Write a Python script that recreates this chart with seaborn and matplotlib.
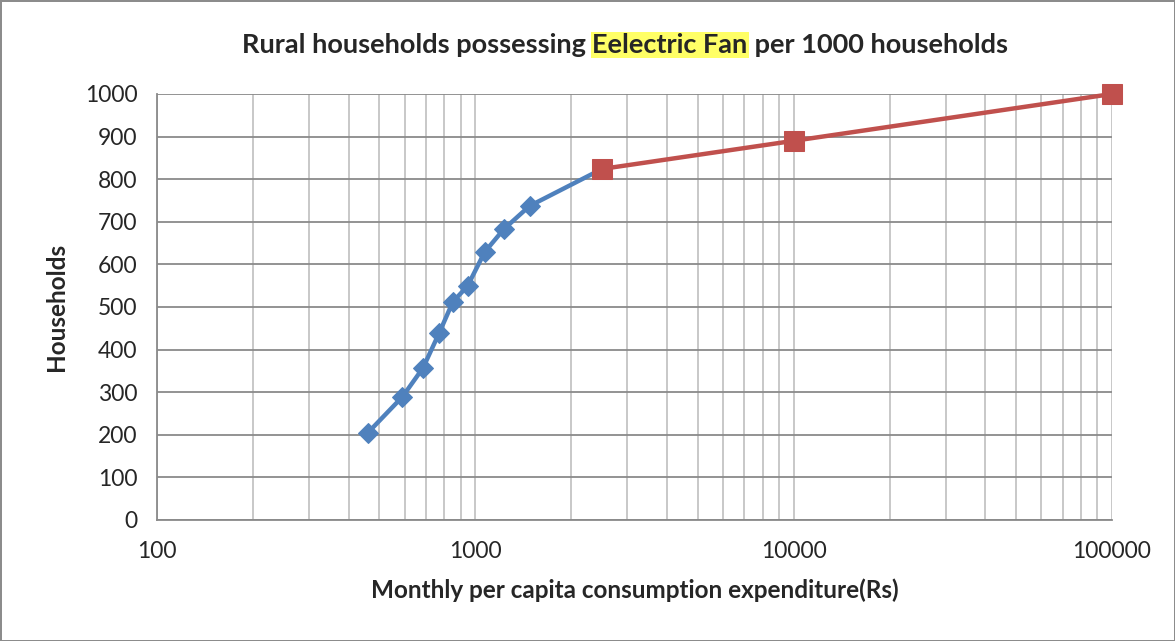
import matplotlib.pyplot as plt
import pandas as pd
import seaborn as sns
from matplotlib.ticker import FixedLocator, LogLocator, NullFormatter

# values
blue_mpce = [460, 590, 685, 770, 850, 945, 1070, 1230, 1480, 2500]
blue_households = [205, 289, 357, 439, 512, 549, 629, 683, 737, 824]
red_mpce = [2500, 10000, 100000]
red_households = [824, 890, 1000]
x_ticks = [100, 1000, 10000, 100000]
x_tick_labels = ["100", "1000", "10000", "100000"]
y_ticks = list(range(0, 1001, 100))

df_blue = pd.DataFrame({"mpce": blue_mpce, "households": blue_households})
df_red = pd.DataFrame({"mpce": red_mpce, "households": red_households})

sns.set_theme(style="white")
plt.rcParams["font.family"] = ["Lato", "DejaVu Sans"]

fig = plt.figure(figsize=(11.75, 6.41), dpi=100)
fig.patch.set_edgecolor("#8c8c8c")
fig.patch.set_linewidth(2)
ax = fig.add_axes([0.1336, 0.1888, 0.8128, 0.6646])

sns.lineplot(data=df_blue, x="mpce", y="households", ax=ax, sort=False,
             color="#4F81BD", lw=3.2, marker="D", markersize=10.5,
             markeredgecolor="#4F81BD", zorder=3, clip_on=False)
sns.lineplot(data=df_red, x="mpce", y="households", ax=ax, sort=False,
             color="#C0504D", lw=3.2, marker="s", markersize=14,
             markeredgecolor="#C0504D", zorder=4, clip_on=False)

ax.set_xscale("log")
ax.set_xlim(100, 100000)
ax.set_ylim(0, 1000)
ax.xaxis.set_major_locator(FixedLocator(x_ticks))
ax.set_xticklabels(x_tick_labels)
ax.xaxis.set_minor_locator(LogLocator(base=10, subs=range(2, 10)))
ax.xaxis.set_minor_formatter(NullFormatter())
ax.set_yticks(y_ticks)

ax.yaxis.grid(True, color="#8a8a8a", lw=1.3)
ax.xaxis.grid(True, which="both", color="#c4c4c4", lw=1.3)
ax.set_axisbelow(True)
for side in ["top", "right"]:
    ax.spines[side].set_visible(False)
for side in ["left", "bottom"]:
    ax.spines[side].set_color("#8a8a8a")
    ax.spines[side].set_linewidth(1.3)
ax.tick_params(axis="x", which="both", length=0, pad=15, labelsize=16.5)
ax.tick_params(axis="y", length=0, pad=14, labelsize=16.5)

ax.set_xlabel("Monthly per capita consumption expenditure(Rs)",
              fontsize=17.5, fontweight="bold", labelpad=12)
ax.set_ylabel("Households", fontsize=17.5, fontweight="bold", labelpad=12)

# title in three pieces so the middle one can carry the yellow highlight
t1 = fig.text(242 / 1175, 1 - 53 / 641, "Rural households possessing ",
              fontsize=19.5, fontweight="bold", va="baseline")
t2 = ax.annotate("Eelectric Fan", xy=(1, 0), xycoords=t1, va="bottom",
                 fontsize=19.5, fontweight="bold",
                 bbox=dict(boxstyle="square,pad=0.05", fc="#FFFF66", ec="none"))
ax.annotate(" per 1000 households", xy=(1, 0), xycoords=t2, va="bottom",
            fontsize=19.5, fontweight="bold")

fig.savefig("out.png", dpi=100)
